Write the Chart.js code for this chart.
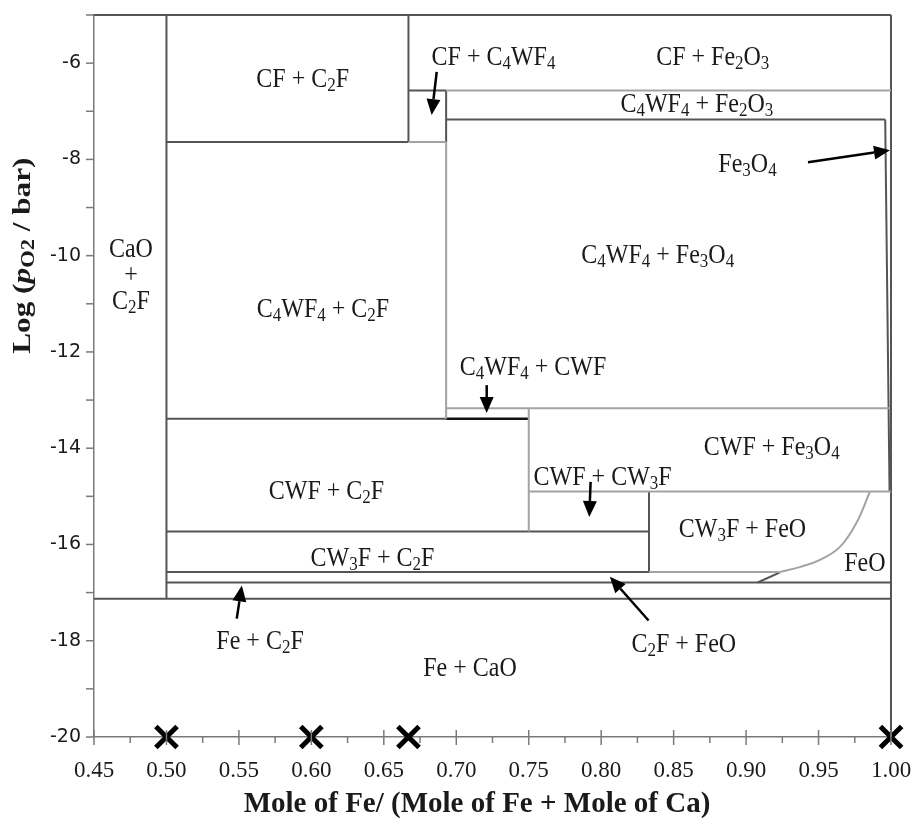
<!DOCTYPE html>
<html>
<head>
<meta charset="utf-8">
<script src="https://cdn.jsdelivr.net/npm/chart.js@4.4.1/dist/chart.umd.min.js"></script>
<style>
  html, body { margin: 0; padding: 0; background: #fff; }
</style>
</head>
<body>
<canvas id="chart" width="918" height="824"></canvas>
<script>
// x = mole Fe / (mole Fe + mole Ca), y = log pO2 (bar)
const xTickValues = [0.45, 0.475, 0.50, 0.525, 0.55, 0.575, 0.60, 0.625, 0.65, 0.675, 0.70, 0.725,
                     0.75, 0.775, 0.80, 0.825, 0.85, 0.875, 0.90, 0.925, 0.95, 0.975, 1.00];
const xTickLabels = ['0.45', '', '0.50', '', '0.55', '', '0.60', '', '0.65', '', '0.70', '',
                     '0.75', '', '0.80', '', '0.85', '', '0.90', '', '0.95', '', '1.00'];
const yTickValues = [-20, -19, -18, -17, -16, -15, -14, -13, -12, -11, -10, -9, -8, -7, -6, -5];
const yTickLabels = ['-20', '', '-18', '', '-16', '', '-14', '', '-12', '', '-10', '', '-8', '', '-6', ''];

// phase boundaries, each one a [x, y] segment
const darkBoundaries = [
    [[0.45, -5.00], [1.00, -5.00]],
    [[1.00, -5.00], [1.00, -20.00]],
    [[0.50, -5.00], [0.50, -17.13]],
    [[0.50, -7.64], [0.667, -7.64]],
    [[0.667, -5.00], [0.667, -7.64]],
    [[0.667, -6.57], [0.693, -6.57]],
    [[0.693, -6.57], [0.693, -7.64]],
    [[0.693, -7.17], [0.996, -7.17]],
    [[0.996, -7.17], [0.999, -14.90]],
    [[0.50, -13.39], [0.693, -13.39]],
    [[0.50, -15.73], [0.833, -15.73]],
    [[0.833, -14.90], [0.833, -16.57]],
    [[0.50, -16.57], [0.833, -16.57]],
    [[0.50, -16.79], [1.00, -16.79]],
    [[0.45, -17.13], [1.00, -17.13]],
    [[0.908, -16.79], [0.9234, -16.58]]
];
const blackBoundaries = [
    [[0.693, -13.39], [0.75, -13.39]]
];
const greyBoundaries = [
    [[0.693, -6.57], [1.00, -6.57]],
    [[0.667, -7.64], [0.693, -7.64]],
    [[0.693, -7.64], [0.693, -13.39]],
    [[0.693, -13.17], [0.999, -13.17]],
    [[0.75, -13.17], [0.75, -15.73]],
    [[0.75, -14.90], [1.00, -14.90]],
    [[0.833, -16.57], [0.9234, -16.57]]
];
// FeO / CW3F + FeO boundary
const feoCurve = [[0.9234, -16.57], [0.937, -16.47], [0.951, -16.32], [0.9648, -16.05], [0.976, -15.56], [0.9855, -14.90]];

// starting compositions
const crossX = [0.50, 0.60, 0.667, 1.00];
const crossY = [-20, -20, -20, -20];

// field names, "_" puts the next character in subscript
const phaseLabels = [
    ['CF + C_2F', 0.594, -6.30],
    ['CF + C_4WF_4', 0.7257, -5.85],
    ['CF + Fe_2O_3', 0.877, -5.85],
    ['C_4WF_4 + Fe_2O_3', 0.866, -6.83],
    ['Fe_3O_4', 0.901, -8.08],
    ['C_4WF_4 + Fe_3O_4', 0.839, -9.97],
    ['CaO', 0.4755, -9.84],
    ['+', 0.4755, -10.38],
    ['C_2F', 0.4755, -10.92],
    ['C_4WF_4 + C_2F', 0.608, -11.09],
    ['C_4WF_4 + CWF', 0.753, -12.29],
    ['CWF + Fe_3O_4', 0.9177, -13.96],
    ['CWF + CW_3F', 0.801, -14.58],
    ['CW_3F + FeO', 0.8975, -15.66],
    ['FeO', 0.982, -16.36],
    ['CWF + C_2F', 0.6104, -14.87],
    ['CW_3F + C_2F', 0.6422, -16.26],
    ['Fe + C_2F', 0.5646, -17.98],
    ['C_2F + FeO', 0.857, -18.05],
    ['Fe + CaO', 0.7095, -18.55]
];

// pointer arrows: [fromX, fromY, toX, toY]
const pointers = [
    [0.6865, -6.18, 0.683, -7.08],
    [0.9427, -8.06, 0.9993, -7.81],
    [0.721, -12.69, 0.721, -13.27],
    [0.7927, -14.70, 0.7918, -15.43],
    [0.5485, -17.54, 0.552, -16.85],
    [0.8327, -17.58, 0.806, -16.67]
];

const SERIF = '"Liberation Serif", "Times New Roman", serif';
const SANS = '"DejaVu Sans", Verdana, sans-serif';
const STRETCH = 1.15;

const toPoints = seg => seg.map(p => ({ x: p[0], y: p[1] }));

const lineSet = (seg, color, width, tension) => ({
    data: toPoints(seg),
    showLine: true,
    borderColor: color,
    borderWidth: width,
    pointRadius: 0,
    tension: tension || 0,
    clip: false
});

const datasets = [];
greyBoundaries.forEach(s => datasets.push(lineSet(s, '#a3a3a3', 2)));
datasets.push(lineSet(feoCurve, '#a3a3a3', 2, 0.4));
darkBoundaries.forEach(s => datasets.push(lineSet(s, '#555555', 2)));
blackBoundaries.forEach(s => datasets.push(lineSet(s, '#111111', 2.5)));
datasets.push({
    data: crossX.map((x, i) => ({ x: x, y: crossY[i] })),
    pointStyle: 'crossRot',
    pointRadius: 15,
    borderWidth: 5,
    borderColor: '#000',
    backgroundColor: '#000',
    clip: false
});

function splitParts(text) {
    const parts = [];
    for (let i = 0; i < text.length; i++) {
        if (text[i] === '_') {
            parts.push({ t: text[i + 1], sub: true });
            i++;
        } else if (parts.length && !parts[parts.length - 1].sub) {
            parts[parts.length - 1].t += text[i];
        } else {
            parts.push({ t: text[i], sub: false });
        }
    }
    return parts;
}

// draws mixed text centred on (0, 0) of the current transform
function drawParts(ctx, parts, size, weight) {
    const fontFor = p => (p.italic ? 'italic ' : '') + weight + ' ' +
        (p.sub ? Math.round(size * 0.7) : size) + 'px ' + SERIF;
    let total = 0;
    parts.forEach(p => {
        ctx.font = fontFor(p);
        p.w = ctx.measureText(p.t).width;
        total += p.w;
    });
    let cx = -total / 2;
    ctx.textBaseline = 'alphabetic';
    ctx.textAlign = 'left';
    parts.forEach(p => {
        ctx.font = fontFor(p);
        ctx.fillText(p.t, cx, size * 0.33 + (p.sub ? size * 0.14 : 0));
        cx += p.w;
    });
}

function drawArrow(ctx, x0, y0, x1, y1) {
    const ang = Math.atan2(y1 - y0, x1 - x0);
    const len = 16, half = 7;
    const bx = x1 - Math.cos(ang) * len, by = y1 - Math.sin(ang) * len;
    ctx.beginPath();
    ctx.moveTo(x0, y0);
    ctx.lineTo(bx, by);
    ctx.stroke();
    ctx.beginPath();
    ctx.moveTo(x1, y1);
    ctx.lineTo(bx + Math.sin(ang) * half, by - Math.cos(ang) * half);
    ctx.lineTo(bx - Math.sin(ang) * half, by + Math.cos(ang) * half);
    ctx.closePath();
    ctx.fill();
}

// fixed axis box so the plot area sits where it should
const fixBox = (s, size) => {
    if (s.isHorizontal()) s.height = size; else s.width = size;
    s.paddingLeft = s.paddingRight = s.paddingTop = s.paddingBottom = 0;
};

const overlay = {
    id: 'overlay',
    afterDatasetsDraw(chart) {
        const { ctx, chartArea, scales } = chart;
        const sx = scales.x, sy = scales.y;
        ctx.save();

        // tick marks
        ctx.strokeStyle = '#7a7a7a';
        ctx.lineWidth = 1.5;
        sx.ticks.forEach((t, i) => {
            const px = sx.getPixelForValue(t.value);
            const major = xTickLabels[i] !== '';
            ctx.beginPath();
            ctx.moveTo(px, chartArea.bottom - (major ? 7 : 0));
            ctx.lineTo(px, chartArea.bottom + (major ? 8 : 6));
            ctx.stroke();
        });
        sy.ticks.forEach(t => {
            const py = sy.getPixelForValue(t.value);
            ctx.beginPath();
            ctx.moveTo(chartArea.left - 8, py);
            ctx.lineTo(chartArea.left, py);
            ctx.stroke();
        });

        // field names
        ctx.fillStyle = '#1a1a1a';
        phaseLabels.forEach(([text, x, y]) => {
            ctx.save();
            ctx.translate(sx.getPixelForValue(x), sy.getPixelForValue(y));
            ctx.scale(1, STRETCH);
            drawParts(ctx, splitParts(text), 24, 'normal');
            ctx.restore();
        });

        // arrows
        ctx.strokeStyle = '#000';
        ctx.fillStyle = '#000';
        ctx.lineWidth = 2.5;
        pointers.forEach(([x0, y0, x1, y1]) => {
            drawArrow(ctx,
                sx.getPixelForValue(x0), sy.getPixelForValue(y0),
                sx.getPixelForValue(x1), sy.getPixelForValue(y1));
        });

        // axis titles
        ctx.fillStyle = '#1a1a1a';
        ctx.save();
        ctx.translate(477, 802);
        ctx.scale(1, 1.05);
        drawParts(ctx, [{ t: 'Mole of Fe/ (Mole of Fe + Mole of Ca)' }], 29, 'bold');
        ctx.restore();

        ctx.save();
        ctx.translate(22, sy.getPixelForValue(-10));
        ctx.rotate(-Math.PI / 2);
        ctx.scale(1.25, 1);
        drawParts(ctx, [
            { t: 'Log (' },
            { t: 'p', italic: true },
            { t: 'O', sub: true },
            { t: '2', sub: true },
            { t: ' / bar)' }
        ], 25, 'bold');
        ctx.restore();

        ctx.restore();
    }
};

new Chart(document.getElementById('chart'), {
    type: 'scatter',
    data: { datasets: datasets },
    options: {
        responsive: false,
        animation: false,
        devicePixelRatio: 1,
        layout: { autoPadding: false, padding: { top: 15, right: 27, left: 0, bottom: 0 } },
        plugins: {
            legend: { display: false },
            tooltip: { enabled: false }
        },
        scales: {
            x: {
                type: 'linear',
                min: 0.45,
                max: 1.00,
                afterBuildTicks: s => { s.ticks = xTickValues.map(v => ({ value: v })); },
                afterFit: s => fixBox(s, 87),
                grid: { display: false, drawTicks: false },
                border: { display: true, color: '#7a7a7a', width: 1.5 },
                ticks: {
                    autoSkip: false,
                    maxRotation: 0,
                    padding: 20,
                    color: '#1a1a1a',
                    font: { family: SERIF, size: 23 },
                    callback: (v, i) => xTickLabels[i]
                }
            },
            y: {
                type: 'linear',
                min: -20,
                max: -5,
                afterBuildTicks: s => { s.ticks = yTickValues.map(v => ({ value: v })); },
                afterFit: s => fixBox(s, 94),
                grid: { display: false, drawTicks: false },
                border: { display: true, color: '#7a7a7a', width: 1.5 },
                ticks: {
                    autoSkip: false,
                    padding: 13,
                    color: '#1a1a1a',
                    font: { family: SANS, size: 19 },
                    callback: (v, i) => yTickLabels[i]
                }
            }
        }
    },
    plugins: [overlay]
});
</script>
</body>
</html>
